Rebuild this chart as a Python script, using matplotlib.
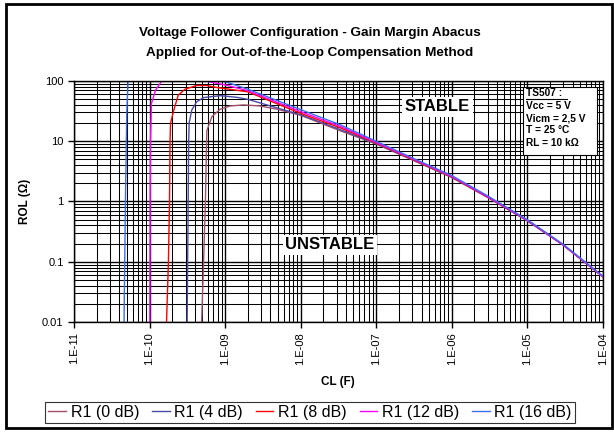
import numpy as np
import matplotlib.pyplot as plt
from matplotlib.patches import Rectangle
from matplotlib.lines import Line2D

plt.rcParams['font.family'] = ['Liberation Sans', 'DejaVu Sans']

# Data (CL in F, ROL in ohm)
cl_0db = [4.9e-10, 5.2e-10, 5.5e-10, 5.7e-10, 5.75e-10, 6.7e-10, 8.6e-10, 1.17e-9, 1.75e-9,
          2.9e-9, 4.9e-9, 1e-8, 3.4e-8, 1e-7, 3e-7, 1e-6, 3e-6, 1e-5, 3e-5, 1e-4]
rol_0db = [0.01, 0.1, 1, 10, 15, 25.6, 33.9, 38.5, 40, 38.5, 33.9, 27, 14.8, 9.0, 4.9,
           2.5, 1.17, 0.48, 0.19, 0.057]

cl_4db = [3.15e-10, 3.25e-10, 3.3e-10, 3.35e-10, 3.63e-10, 4.2e-10, 5.2e-10, 8.6e-10, 1.43e-9,
          2e-9, 1e-8, 3.4e-8, 1e-7, 3e-7, 1e-6, 3e-6, 1e-5, 3e-5, 1e-4]
rol_4db = [0.01, 1, 10, 20, 33, 45, 53, 57, 53.5, 49.6, 27.5, 15.5, 9.2, 5.0, 2.55, 1.18,
           0.48, 0.19, 0.057]

cl_8db = [1.68e-10, 1.78e-10, 1.84e-10, 1.87e-10, 1.9e-10, 2.1e-10, 2.4e-10, 2.95e-10, 4.2e-10,
          5.7e-10, 7.8e-10, 2e-9, 1e-8, 3.4e-8, 1e-7, 3e-7, 1e-6, 3e-6, 1e-5, 3e-5, 1e-4]
rol_8db = [0.01, 0.1, 1, 10, 20, 33, 58, 73, 84, 84, 78, 66, 29, 16.6, 9.4, 5.05, 2.58,
           1.19, 0.49, 0.19, 0.057]

cl_12db = [1.01e-10, 1.02e-10, 1.03e-10, 1.06e-10, 1.2e-10, 1.45e-10, 3e-10, 5.5e-10, 1e-9,
           2e-9, 1e-8, 3.4e-8, 1e-7, 3e-7, 1e-6, 3e-6, 1e-5, 3e-5, 1e-4]
rol_12db = [0.01, 1, 10, 42, 70, 100, 130, 100, 86, 69, 31, 17.5, 9.6, 5.15, 2.62, 1.2,
            0.49, 0.19, 0.057]

cl_16db = [4.6e-11, 4.8e-11, 5.0e-11, 5.2e-11, 1.5e-10, 4e-10, 9.4e-10, 2e-9, 1e-8, 3.4e-8,
           1e-7, 3e-7, 1e-6, 3e-6, 1e-5, 3e-5, 1e-4]
rol_16db = [0.01, 1, 30, 100, 160, 140, 100, 73, 33.5, 18.6, 10, 5.3, 2.7, 1.24, 0.5,
            0.195, 0.058]

series = [
    ('R1 (0 dB)', cl_0db, rol_0db, '#a0506e'),
    ('R1 (4 dB)', cl_4db, rol_4db, '#4a4aa8'),
    ('R1 (8 dB)', cl_8db, rol_8db, '#ff0000'),
    ('R1 (12 dB)', cl_12db, rol_12db, '#ff00ff'),
    ('R1 (16 dB)', cl_16db, rol_16db, '#3a6cf0'),
]

x_ticks = [1e-11, 1e-10, 1e-9, 1e-8, 1e-7, 1e-6, 1e-5, 1e-4]
x_labels = ['1.E-11', '1.E-10', '1.E-09', '1.E-08', '1.E-07', '1.E-06', '1.E-05', '1.E-04']
y_ticks = [0.01, 0.1, 1, 10, 100]
y_labels = ['0.01', '0.1', '1', '10', '100']

fig = plt.figure(figsize=(6.14, 4.32), dpi=100)
ax = fig.add_axes([0.1205, 0.2546, 0.861, 0.558])

for name, cl, rol, col in series:
    ax.plot(cl, rol, color=col, lw=1.0, label=name)

ax.set_xscale('log')
ax.set_yscale('log')
ax.set_xlim(1e-11, 1e-4)
ax.set_ylim(0.01, 100)

ax.grid(which='major', color='black', lw=1.0)
ax.grid(which='minor', color='black', lw=0.75)
ax.set_axisbelow(True)
ax.tick_params(which='minor', length=0)
ax.tick_params(which='major', length=4, width=1, direction='out', labelsize=8)

ax.set_xticks(x_ticks)
ax.set_xticklabels(x_labels, rotation=90)
ax.set_yticks(y_ticks)
ax.set_yticklabels(y_labels)
for s in ax.spines.values():
    s.set_color('black')
    s.set_linewidth(1)

ax.set_xlabel('CL (F)', fontsize=8.5, fontweight='bold', labelpad=8)
ax.set_ylabel('ROL (Ω)', fontsize=8.5, fontweight='bold', labelpad=8)

ax.text(0.6875, 0.893, 'STABLE', transform=ax.transAxes, ha='center', va='center',
        fontsize=12, fontweight='bold',
        bbox=dict(boxstyle='square,pad=0.15', fc='white', ec='none'))
ax.text(0.484, 0.320, 'UNSTABLE', transform=ax.transAxes, ha='center', va='center',
        fontsize=12, fontweight='bold',
        bbox=dict(boxstyle='square,pad=0.15', fc='white', ec='none'))

# info box
ax.add_patch(Rectangle((0.849, 0.693), 0.140, 0.282, transform=ax.transAxes,
                       fc='white', ec='black', lw=0.8, zorder=5))
info = ['TS507 :', 'Vcc = 5 V', 'Vicm = 2,5 V', 'T = 25 °C', 'RL = 10 kΩ']
ys = [0.950, 0.898, 0.846, 0.795, 0.743]
for txt, yy in zip(info, ys):
    ax.text(0.855, yy, txt, transform=ax.transAxes, ha='left', va='center',
            fontsize=7.3, fontweight='bold', zorder=6)
ax.add_line(Line2D([0.855, 0.933], [0.925, 0.925], transform=ax.transAxes,
                   color='black', lw=0.8, zorder=6))

fig.text(0.505, 0.923, 'Voltage Follower Configuration - Gain Margin Abacus',
         ha='center', va='center', fontsize=9.7, fontweight='bold')
fig.text(0.505, 0.877, 'Applied for Out-of-the-Loop Compensation Method',
         ha='center', va='center', fontsize=9.7, fontweight='bold')

leg = fig.legend(loc='center', bbox_to_anchor=(0.505, 0.045), ncol=5, fontsize=11.5,
                 frameon=True, fancybox=False, edgecolor='black', handlelength=1.1,
                 handletextpad=0.3, columnspacing=0.8, borderpad=0.2, borderaxespad=0)
leg.get_frame().set_linewidth(0.8)

fig.add_artist(Rectangle((6 / 614, 4 / 432), 606 / 614, 424 / 432, transform=fig.transFigure,
                         fill=False, ec='black', lw=2))

fig.savefig('out.png', dpi=100)
